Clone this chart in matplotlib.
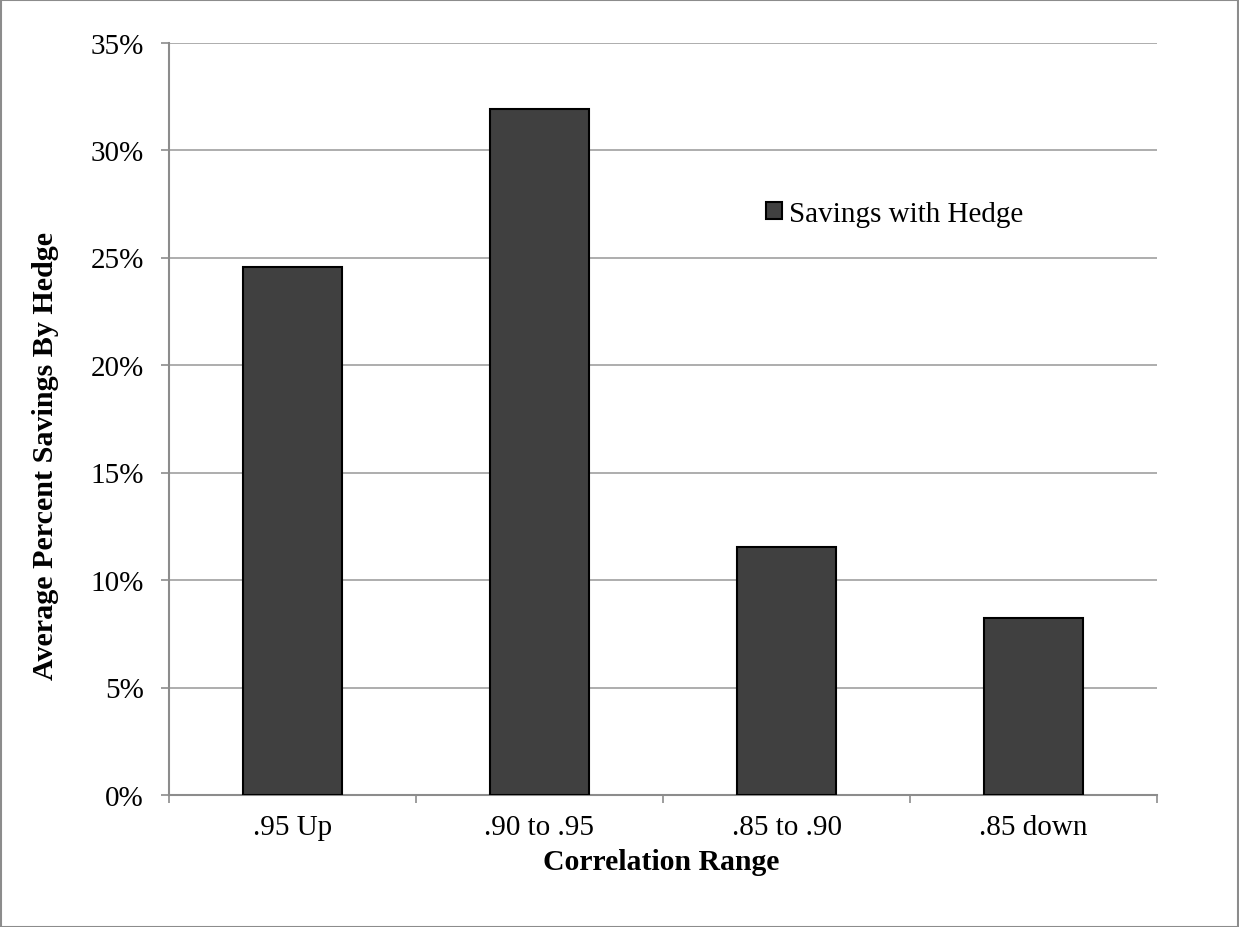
import matplotlib
matplotlib.use("Agg")
import matplotlib.pyplot as plt
from matplotlib.patches import Rectangle
from matplotlib.ticker import FuncFormatter

categories = [".95 Up", ".90 to .95", ".85 to .90", ".85 down"]
savings = [24.55, 31.9, 11.52, 8.23]
y_ticks = [0, 5, 10, 15, 20, 25, 30, 35]

plt.rcParams['font.family'] = ['Liberation Serif', 'DejaVu Serif']
W, H = 1239, 928
fig = plt.figure(figsize=(W / 100, H / 100), dpi=100)
ax = fig.add_axes([169 / W, 1 - 796 / H, (1157 - 169) / W, (796 - 43.5) / H])

grey = '#8c8c8c'
x = range(len(categories))
bars = ax.bar(x, savings, width=0.4, color='#404040', edgecolor='black',
              linewidth=1.5, label='Savings with Hedge', zorder=3)

ax.set_xlim(-0.5, len(categories) - 0.5)
ax.set_ylim(0, 35)
ax.set_yticks(y_ticks)
ax.yaxis.set_major_formatter(FuncFormatter(lambda v, p: f"{v:.0f}%"))
ax.grid(axis='y', color='#a0a0a0', linewidth=1.2, zorder=0)
ax.tick_params(axis='y', direction='out', length=6, width=1.2, color=grey,
               labelsize=21, pad=12)

# category boundaries as major ticks, labels on minor ticks
ax.set_xticks([i - 0.5 for i in range(len(categories) + 1)])
ax.set_xticklabels([])
ax.set_xticks(list(x), minor=True)
ax.set_xticklabels(categories, minor=True)
ax.tick_params(axis='x', which='major', direction='out', length=6, width=1.2, color=grey)
ax.tick_params(axis='x', which='minor', length=0, labelsize=21, pad=14)

for s in ['top', 'right']:
    ax.spines[s].set_visible(False)
for s in ['left', 'bottom']:
    ax.spines[s].set_color(grey)
    ax.spines[s].set_linewidth(1.5)

fig.text(661 / W, 1 - 870 / H, "Correlation Range", ha='center', va='baseline',
         fontsize=21.4, fontweight='bold')
fig.text(46 / W, 1 - 456 / H, "Average Percent Savings By Hedge", ha='center',
         va='center', rotation=90, fontsize=21.7, fontweight='bold')

ax.legend(loc='center left', bbox_to_anchor=(766 / W, 1 - 215 / H),
          bbox_transform=fig.transFigure, frameon=False, fontsize=21,
          handlelength=0.55, handleheight=0.55, handletextpad=0.25,
          borderpad=0, borderaxespad=0)

fig.patches.append(Rectangle((0.5 / W, 0.5 / H), 1 - 1.5 / W, 1 - 1.5 / H,
                             transform=fig.transFigure, fill=False,
                             edgecolor=grey, linewidth=1.5))

fig.savefig("out.png", dpi=100)
